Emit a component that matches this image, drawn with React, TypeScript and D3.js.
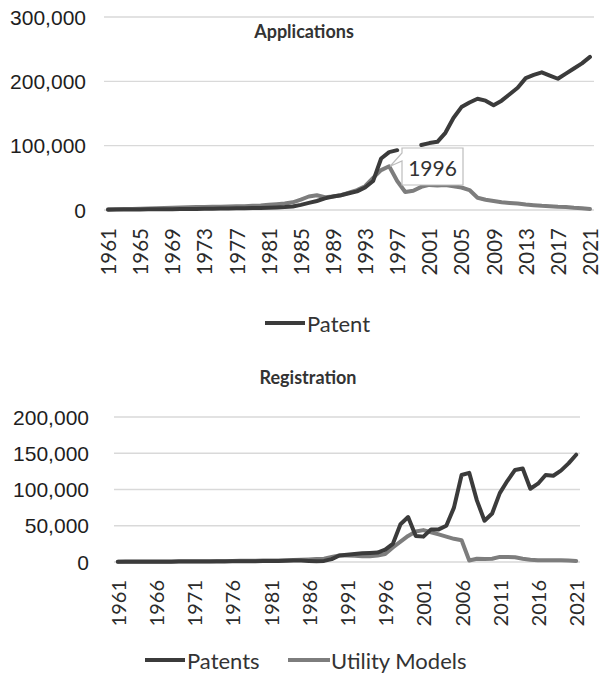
import React from "react";
import * as d3 from "d3";

const years: number[] = Array.from({ length: 61 }, (_, i) => 1961 + i);

const appPatent: (number | null)[] = [
  500, 600, 700, 800, 900, 1000, 1100, 1200, 1300, 1400,
  1500, 1700, 1900, 2000, 2200, 2400, 2600, 2800, 3000, 3300,
  3600, 4000, 4500, 5500, 8000, 11000, 14000, 18000, 21000, 23000,
  26000, 29000, 35000, 45000, 80000, 90000, 93000, null, null, 101000,
  104000, 106000, 120000, 143000, 160000, 167000, 173000, 170000, 163000, 170000,
  180000, 190000, 205000, 210000, 214000, 209000, 204000, 212000, 220000, 228000,
  238000,
];

const appUtility: number[] = [
  1000, 1200, 1400, 1700, 2000, 2400, 2800, 3200, 3600, 4000,
  4300, 4600, 4800, 5000, 5200, 5500, 5800, 6000, 6500, 7000,
  8000, 9000, 10000, 12000, 16000, 21000, 23000, 20000, 21000, 23000,
  27000, 31000, 37000, 50000, 62000, 68000, 45000, 28000, 30000, 36000,
  39000, 38000, 39000, 37000, 35000, 31000, 19000, 16000, 14000, 12000,
  11000, 10000, 8500, 7500, 6500, 6000, 5000, 4500, 3500, 2800,
  1500,
];

const regPatent: number[] = [
  300, 300, 350, 400, 400, 450, 500, 500, 550, 600,
  650, 700, 750, 800, 850, 900, 1000, 1100, 1200, 1300,
  1400, 1500, 1700, 1900, 2000, 1500, 1000, 1500, 4000, 9000,
  10000, 11000, 12000, 12500, 13000, 17000, 25000, 52000, 62000, 36000,
  35000, 45000, 45000, 50000, 75000, 120000, 123000, 85000, 57000, 67000,
  95000, 112000, 127000, 129000, 101000, 108000, 120000, 119000, 126000, 136000,
  148000,
];

const regUtility: number[] = [
  500, 550, 600, 650, 700, 750, 800, 850, 900, 950,
  1000, 1100, 1200, 1300, 1400, 1500, 1600, 1700, 1800, 2000,
  2100, 2200, 2400, 2600, 3000, 3500, 4000, 4500, 7000, 9000,
  9000, 8500, 8000, 8000, 9000, 11000, 20000, 28000, 36000, 42000,
  44000, 41000, 38000, 35000, 32000, 30000, 2000, 4500, 4000, 4500,
  7000, 7000, 6500, 4500, 3000, 2500, 2500, 2500, 2500, 2000,
  1500,
];

const appTicks: number[] = [0, 100000, 200000, 300000];
const regTicks: number[] = [0, 50000, 100000, 150000, 200000];
const appLabelYears: number[] = years.filter((y) => (y - 1961) % 4 === 0);
const regLabelYears: number[] = years.filter((y) => (y - 1961) % 5 === 0);

const DARK = "#3b3b3b";
const GRAY = "#7d7d7d";
const GRID = "#d9d9d9";
const CAL = "Lato, 'Open Sans', sans-serif";
const ARIAL = "'Liberation Sans', Arial, sans-serif";

const fmt = d3.format(",");

type PanelProps = {
  x0: number;
  x1: number;
  yTop: number;
  yBottom: number;
  max: number;
  ticks: number[];
  labelYears: number[];
  labelEndY: number;
  labelX: number;
  labelSize: number;
  series: { values: (number | null)[]; color: string }[];
};

function Panel(p: PanelProps) {
  const x = d3.scalePoint<number>().domain(years).range([p.x0, p.x1]).padding(0.5);
  const y = d3.scaleLinear().domain([0, p.max]).range([p.yBottom, p.yTop]);
  const line = d3
    .line<number | null>()
    .defined((d) => d !== null)
    .x((_, i) => x(years[i]) as number)
    .y((d) => y(d as number));
  return (
    <g>
      {p.ticks.map((t) => (
        <g key={t}>
          <line x1={p.x0} x2={p.x1} y1={y(t)} y2={y(t)} stroke={GRID} strokeWidth={1.3} />
          <text
            x={p.labelX}
            y={y(t)}
            textAnchor="end"
            dominantBaseline="central"
            fontFamily={ARIAL}
            fontSize={21}
            fill="#1e1e1e"
          >
            {fmt(t)}
          </text>
        </g>
      ))}
      {p.labelYears.map((yr) => (
        <text
          key={yr}
          transform={`translate(${x(yr)},${p.labelEndY}) rotate(-90)`}
          textAnchor="end"
          dominantBaseline="central"
          fontFamily={CAL}
          fontSize={p.labelSize}
          fill="#2b2b2b"
        >
          {yr}
        </text>
      ))}
      {p.series.map((s, i) => (
        <path
          key={i}
          d={line(s.values) || ""}
          fill="none"
          stroke={s.color}
          strokeWidth={4}
          strokeLinejoin="round"
          strokeLinecap="round"
        />
      ))}
    </g>
  );
}

export default function App() {
  const xTop = d3.scalePoint<number>().domain(years).range([104, 594]).padding(0.5);
  const yTop = d3.scaleLinear().domain([0, 300000]).range([210, 17]);
  const px = xTop(1996) as number;
  const py = yTop(appUtility[years.indexOf(1996)]);
  return (
    <svg
      width={602}
      height={673}
      style={{ position: "absolute", left: 0, top: 0, background: "#fff" }}
    >
      <rect width={602} height={673} fill="#fff" />
      <text x={304} y={31} textAnchor="middle" dominantBaseline="central" fontFamily={CAL} fontWeight="bold" fontSize={18} fill="#333">
        Applications
      </text>
      <Panel
        x0={104}
        x1={594}
        yTop={17}
        yBottom={210}
        max={300000}
        ticks={appTicks}
        labelYears={appLabelYears}
        labelEndY={228}
        labelX={86}
        labelSize={20.5}
        series={[
          { values: appUtility, color: GRAY },
          { values: appPatent, color: DARK },
        ]}
      />
      {/* callout */}
      <path
        d={`M402,148 H463 V185 H402 V161 L${px + 1},${py} L402,153 Z`}
        fill="#fff"
        stroke="#bdbdbd"
        strokeWidth={1.2}
      />
      <text x={432.5} y={167} textAnchor="middle" dominantBaseline="central" fontFamily={CAL} fontSize={21} fill="#333">
        1996
      </text>
      {/* top legend */}
      <line x1={265} x2={305} y1={323} y2={323} stroke={DARK} strokeWidth={4} />
      <text x={307} y={323} dominantBaseline="central" fontFamily={CAL} fontSize={22} fill="#333">
        Patent
      </text>

      <text x={308} y={377} textAnchor="middle" dominantBaseline="central" fontFamily={CAL} fontWeight="bold" fontSize={18} fill="#333">
        Registration
      </text>
      <Panel
        x0={114}
        x1={580}
        yTop={417}
        yBottom={562}
        max={200000}
        ticks={regTicks}
        labelYears={regLabelYears}
        labelEndY={580}
        labelX={89}
        labelSize={20}
        series={[
          { values: regUtility, color: GRAY },
          { values: regPatent, color: DARK },
        ]}
      />
      <line x1={145} x2={185} y1={660} y2={660} stroke={DARK} strokeWidth={4} />
      <text x={187} y={660} dominantBaseline="central" fontFamily={CAL} fontSize={22} fill="#333">
        Patents
      </text>
      <line x1={288} x2={330} y1={660} y2={660} stroke={GRAY} strokeWidth={4} />
      <text x={331} y={660} dominantBaseline="central" fontFamily={CAL} fontSize={22} fill="#333">
        Utility Models
      </text>
    </svg>
  );
}
